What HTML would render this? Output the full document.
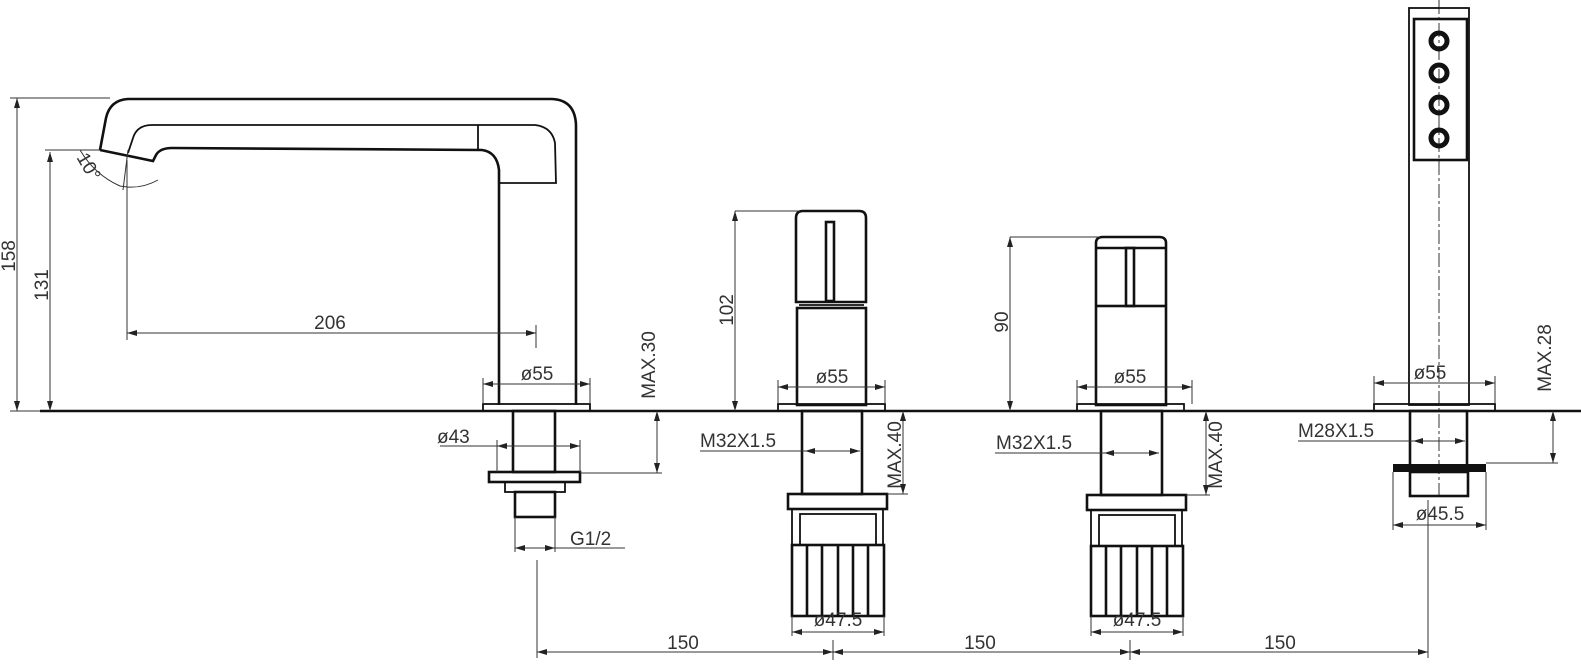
<!DOCTYPE html>
<html><head><meta charset="utf-8"><style>
body{margin:0;background:#fff}
svg{display:block}
text{font-family:"Liberation Sans",sans-serif;font-size:19px;fill:#333}
.t{stroke:#111;stroke-width:2.6;fill:none}
.m{stroke:#111;stroke-width:1.8;fill:none}
.d{stroke:#333;stroke-width:1;fill:none}
</style></head><body>
<svg width="1581" height="664" viewBox="0 0 1581 664" xmlns="http://www.w3.org/2000/svg">
<defs>
<marker id="a" viewBox="0 0 10 6" refX="10" refY="3" markerWidth="10" markerHeight="6" orient="auto-start-reverse" markerUnits="userSpaceOnUse"><path d="M0,0 L10,3 L0,6z" fill="#222"/></marker>
</defs>
<line x1="40" y1="411" x2="1581" y2="411" stroke="#111" stroke-width="2.6"/>

<path class="t" d="M100,150 L106,118 Q110,100 128,99 L552,99 Q575,100 576,125 L576,405"/>
<path class="t" d="M100,150 L153,161 L156,155 Q160,148 172,148 L482,150 Q497,152 499,170 L499,405"/>
<path class="m" d="M128,153 L133,138 Q137,125 152,125 L535,125 Q552,127 555,143 L556,183 L499,183"/>
<line class="m" x1="478" y1="125" x2="478" y2="150"/>
<path class="d" d="M80,150 Q95,175 120,186 Q140,190 158,180"/>
<line class="d" x1="128" y1="150" x2="123" y2="190"/>
<line class="d" x1="45" y1="150" x2="100" y2="150"/>
<text x="78" y="170" transform="rotate(60 88 162)" font-size="16">10°</text>
<rect class="m" x="483" y="404" width="107" height="7"/>
<rect class="t" x="513" y="411" width="42" height="61"/>
<rect class="t" x="489" y="472" width="91" height="10"/>
<rect class="m" x="505" y="482" width="60" height="10"/>
<rect class="t" x="515" y="492" width="40" height="25"/>

<line class="d" x1="17" y1="98" x2="17" y2="411" marker-start="url(#a)" marker-end="url(#a)"/>
<line class="d" x1="10" y1="98" x2="110" y2="98"/><line class="d" x1="10" y1="411" x2="40" y2="411"/>
<text transform="translate(15,256) rotate(-90)" text-anchor="middle">158</text>
<line class="d" x1="50" y1="152" x2="50" y2="411" marker-start="url(#a)" marker-end="url(#a)"/>
<text transform="translate(48,285) rotate(-90)" text-anchor="middle">131</text>
<line class="d" x1="127" y1="160" x2="127" y2="340"/>
<line class="d" x1="127" y1="333" x2="536" y2="333" marker-start="url(#a)" marker-end="url(#a)"/>
<line class="d" x1="536" y1="325" x2="536" y2="348"/>
<text x="330" y="329" text-anchor="middle">206</text>
<line class="d" x1="483" y1="384" x2="590" y2="384" marker-start="url(#a)" marker-end="url(#a)"/>
<line class="d" x1="483" y1="378" x2="483" y2="404"/><line class="d" x1="590" y1="378" x2="590" y2="404"/>
<text x="537" y="380" text-anchor="middle">ø55</text>
<line class="d" x1="657" y1="411" x2="657" y2="473" marker-start="url(#a)" marker-end="url(#a)"/>
<line class="d" x1="580" y1="473" x2="662" y2="473"/>
<text transform="translate(655,365) rotate(-90)" text-anchor="middle">MAX.30</text>
<line class="d" x1="497" y1="446" x2="580" y2="446" marker-start="url(#a)" marker-end="url(#a)"/>
<line class="d" x1="440" y1="446" x2="497" y2="446"/>
<line class="d" x1="497" y1="440" x2="497" y2="472"/><line class="d" x1="580" y1="440" x2="580" y2="472"/>
<text x="437" y="443">ø43</text>
<line class="d" x1="515" y1="548" x2="555" y2="548" marker-start="url(#a)" marker-end="url(#a)"/>
<line class="d" x1="555" y1="548" x2="625" y2="548"/>
<line class="d" x1="515" y1="517" x2="515" y2="552"/><line class="d" x1="555" y1="517" x2="555" y2="552"/>
<text x="570" y="545">G1/2</text>

<g>
<path class="t" d="M796,302 L796,218 Q796,211 803,211 L859,211 Q866,211 866,218 L866,302 Z"/>
<rect class="t" x="826" y="222" width="8" height="79"/>
<line class="m" x1="799" y1="305" x2="864" y2="305"/>
<rect class="t" x="797" y="308" width="69" height="97"/>
<rect class="m" x="778" y="404" width="107" height="7"/>
<rect class="t" x="802" y="411" width="60" height="83"/>
<rect class="t" x="788" y="494" width="99" height="15"/>
<rect class="m" x="792" y="509" width="91" height="36"/>
<rect class="m" x="800" y="514" width="76" height="31"/>
<rect class="t" x="792" y="545" width="92" height="71"/>
<path class="t" d="M807,545V616M822,545V616M838,545V616M853,545V616M868,545V616"/>
</g>
<line class="d" x1="735" y1="211" x2="735" y2="411" marker-start="url(#a)" marker-end="url(#a)"/>
<line class="d" x1="735" y1="211" x2="800" y2="211"/>
<text transform="translate(733,310) rotate(-90)" text-anchor="middle">102</text>
<line class="d" x1="778" y1="387" x2="885" y2="387" marker-start="url(#a)" marker-end="url(#a)"/>
<line class="d" x1="778" y1="380" x2="778" y2="404"/><line class="d" x1="885" y1="380" x2="885" y2="404"/>
<text x="832" y="383" text-anchor="middle">ø55</text>
<line class="d" x1="805" y1="451" x2="860" y2="451" marker-start="url(#a)" marker-end="url(#a)"/>
<line class="d" x1="700" y1="451" x2="805" y2="451"/>
<text x="700" y="447">M32X1.5</text>
<line class="d" x1="903" y1="411" x2="903" y2="494" marker-start="url(#a)" marker-end="url(#a)"/>
<line class="d" x1="887" y1="494" x2="908" y2="494"/>
<text transform="translate(901,455) rotate(-90)" text-anchor="middle">MAX.40</text>
<line class="d" x1="792" y1="632" x2="884" y2="632" marker-start="url(#a)" marker-end="url(#a)"/>
<line class="d" x1="792" y1="616" x2="792" y2="636"/><line class="d" x1="884" y1="616" x2="884" y2="636"/>
<text x="838" y="626" text-anchor="middle">ø47.5</text>

<g>
<path class="t" d="M1096,305 L1096,243 Q1096,237 1103,237 L1159,237 Q1166,237 1166,243 L1166,305"/>
<line class="t" x1="1096" y1="248" x2="1166" y2="248"/>
<rect class="t" x="1126" y="248" width="8" height="58"/>
<rect class="t" x="1096" y="306" width="70" height="99"/>
<rect class="m" x="1077" y="404" width="107" height="7"/>
<rect class="t" x="1101" y="411" width="61" height="84"/>
<rect class="t" x="1087" y="495" width="99" height="15"/>
<rect class="m" x="1091" y="510" width="91" height="36"/>
<rect class="m" x="1099" y="515" width="76" height="31"/>
<rect class="t" x="1091" y="546" width="92" height="70"/>
<path class="t" d="M1106,546V616M1121,546V616M1137,546V616M1152,546V616M1167,546V616"/>
</g>
<line class="d" x1="1010" y1="237" x2="1010" y2="411" marker-start="url(#a)" marker-end="url(#a)"/>
<line class="d" x1="1010" y1="237" x2="1100" y2="237"/>
<text transform="translate(1008,322) rotate(-90)" text-anchor="middle">90</text>
<line class="d" x1="1077" y1="387" x2="1192" y2="387" marker-start="url(#a)" marker-end="url(#a)"/>
<line class="d" x1="1077" y1="380" x2="1077" y2="404"/><line class="d" x1="1192" y1="380" x2="1192" y2="404"/>
<text x="1130" y="383" text-anchor="middle">ø55</text>
<line class="d" x1="1104" y1="453" x2="1159" y2="453" marker-start="url(#a)" marker-end="url(#a)"/>
<line class="d" x1="995" y1="453" x2="1104" y2="453"/>
<text x="996" y="449">M32X1.5</text>
<line class="d" x1="1206" y1="411" x2="1206" y2="495" marker-start="url(#a)" marker-end="url(#a)"/>
<line class="d" x1="1186" y1="495" x2="1210" y2="495"/>
<text transform="translate(1222,455) rotate(-90)" text-anchor="middle">MAX.40</text>
<line class="d" x1="1091" y1="632" x2="1183" y2="632" marker-start="url(#a)" marker-end="url(#a)"/>
<line class="d" x1="1091" y1="616" x2="1091" y2="636"/><line class="d" x1="1183" y1="616" x2="1183" y2="636"/>
<text x="1137" y="626" text-anchor="middle">ø47.5</text>

<line class="d" x1="1439" y1="0" x2="1439" y2="500" stroke-dasharray="14,3,3,3"/>
<rect class="m" x="1409" y="8" width="60" height="397"/>
<rect class="t" x="1414" y="19" width="53" height="141"/>
<g fill="none" stroke="#111">
<circle cx="1439" cy="41" r="8" stroke-width="5"/><circle cx="1439" cy="73" r="8" stroke-width="5"/>
<circle cx="1439" cy="105" r="8" stroke-width="5"/><circle cx="1439" cy="138" r="8" stroke-width="5"/>
</g>
<rect class="m" x="1374" y="404" width="121" height="7"/>
<rect class="t" x="1410" y="411" width="57" height="55"/>
<rect x="1393" y="464" width="93" height="8" fill="#111"/>
<rect class="t" x="1410" y="472" width="58" height="24"/>
<line class="d" x1="1374" y1="383" x2="1495" y2="383" marker-start="url(#a)" marker-end="url(#a)"/>
<line class="d" x1="1374" y1="376" x2="1374" y2="404"/><line class="d" x1="1495" y1="376" x2="1495" y2="404"/>
<text x="1430" y="379" text-anchor="middle">ø55</text>
<line class="d" x1="1413" y1="441" x2="1465" y2="441" marker-start="url(#a)" marker-end="url(#a)"/>
<line class="d" x1="1298" y1="441" x2="1413" y2="441"/>
<text x="1298" y="437">M28X1.5</text>
<line class="d" x1="1553" y1="411" x2="1553" y2="463" marker-start="url(#a)" marker-end="url(#a)"/>
<line class="d" x1="1486" y1="463" x2="1558" y2="463"/>
<text transform="translate(1551,358) rotate(-90)" text-anchor="middle">MAX.28</text>
<line class="d" x1="1393" y1="525" x2="1486" y2="525" marker-start="url(#a)" marker-end="url(#a)"/>
<line class="d" x1="1393" y1="472" x2="1393" y2="530"/><line class="d" x1="1486" y1="472" x2="1486" y2="530"/>
<text x="1440" y="520" text-anchor="middle">ø45.5</text>

<line class="d" x1="537" y1="560" x2="537" y2="658"/>
<line class="d" x1="833" y1="640" x2="833" y2="660"/>
<line class="d" x1="1130" y1="640" x2="1130" y2="660"/>
<line class="d" x1="1428" y1="500" x2="1428" y2="658"/>
<line class="d" x1="537" y1="652" x2="833" y2="652" marker-start="url(#a)" marker-end="url(#a)"/>
<line class="d" x1="833" y1="652" x2="1130" y2="652" marker-start="url(#a)" marker-end="url(#a)"/>
<line class="d" x1="1130" y1="652" x2="1428" y2="652" marker-start="url(#a)" marker-end="url(#a)"/>
<text x="683" y="649" text-anchor="middle">150</text>
<text x="980" y="649" text-anchor="middle">150</text>
<text x="1280" y="649" text-anchor="middle">150</text>
</svg>
</body></html>
